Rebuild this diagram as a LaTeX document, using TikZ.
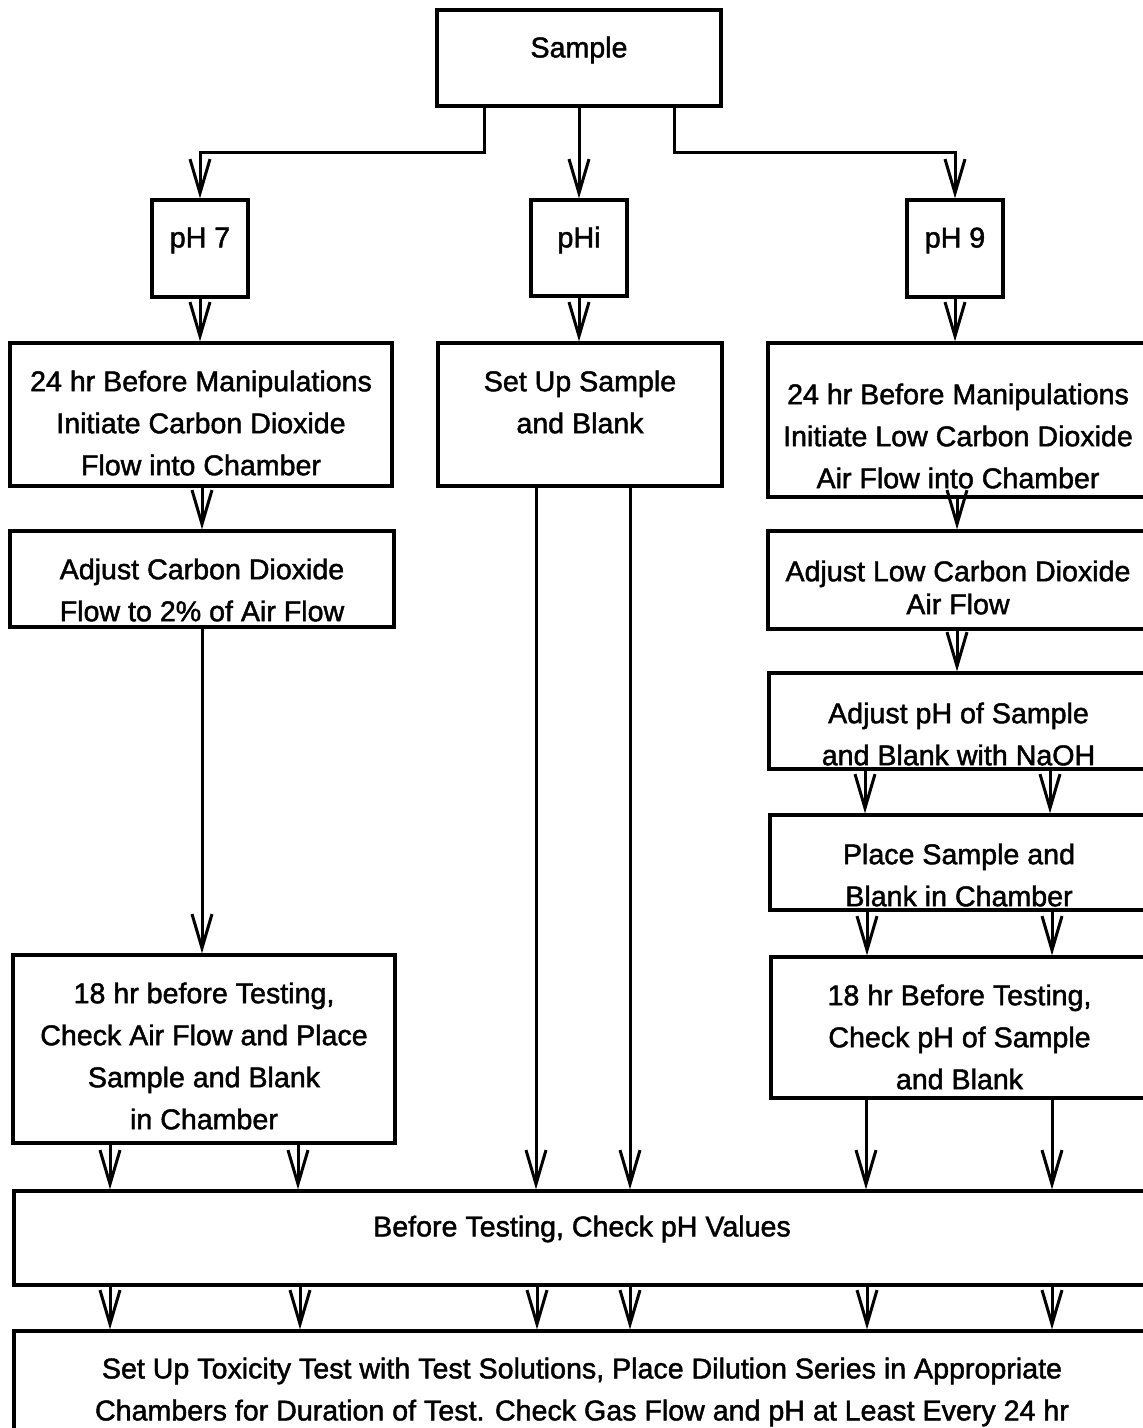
\documentclass[tikz,border=0pt]{standalone}
\usepackage{fontspec}
\setmainfont{Liberation Sans}[UprightFeatures={FakeBold=1.6}]
\usetikzlibrary{arrows.meta, positioning}

\begin{document}
\begin{tikzpicture}[
		x=0.5pt, y=-0.5pt,
		box/.style={draw, line width=1.6pt, inner sep=0pt},
		size/.style 2 args={minimum width=#1*0.5pt, minimum height=#2*0.5pt},
		txt/.style={align=center, inner sep=0pt, font=\fontsize{14.3}{21}\selectfont},
		flow/.style={line width=1.5pt, -{Straight Barb[length=17pt, width=10pt, line width=1.5pt]}}
		]
		\useasboundingbox (0,0) rectangle (1143,1428);
		\clip (0,0) rectangle (1143,1428);
		
		% ==========================================
		% 1. Sample and the three pH branches
		% ==========================================
		\node[box, size={284}{96}, label={[txt, yshift=4pt]center:{Sample}}] (sample) at (579,58) {};
		\node[box, size={96}{97}, label={[txt, yshift=4pt]center:{pH 7}}] (ph7) at (200,248.5) {};
		\node[box, size={96}{96}, label={[txt, yshift=4pt]center:{pHi}}] (phi) at (579,248) {};
		\node[box, size={96}{97}, label={[txt, yshift=4pt]center:{pH 9}}] (ph9) at (955,248.5) {};
		
		\draw[flow] (sample.south -| 484,0) -- (484,153) -| (ph7.north);
		\draw[flow] (sample) -- (phi);
		\draw[flow] (sample.south -| 674,0) -- (674,153) -| (ph9.north);
		
		% ==========================================
		% 2. pH 7 column
		% ==========================================
		\node[box, size={382}{143}, label={[txt, yshift=-4.25pt]center:{24 hr Before Manipulations\\Initiate Carbon Dioxide\\Flow into Chamber}}] (prep7) at (201,414.5) {};
		\node[box, size={384}{96}, label={[txt, yshift=-5.5pt]center:{Adjust Carbon Dioxide\\Flow to 2\% of Air Flow}}] (adjust7) at (202,579) {};
		\node[box, size={382}{188}, label={[txt, yshift=-3.5pt]center:{18 hr before Testing,\\Check Air Flow and Place\\Sample and Blank\\in Chamber}}] (place7) at (204,1049) {};
		
		\draw[flow] (ph7.south) -- (ph7.south |- prep7.north);
		\draw[flow] (prep7.south -| 202,0) -- (adjust7.north);
		\draw[flow] (adjust7.south) -- (adjust7.south |- place7.north);
		
		% ==========================================
		% 3. pHi column
		% ==========================================
		\node[box, size={284}{143}, label={[txt, yshift=6.25pt]center:{Set Up Sample\\and Blank}}] (setupi) at (580,414.5) {};
		
		\draw[flow] (phi.south) -- (phi.south |- setupi.north);
		
		% ==========================================
		% 4. pH 9 column
		% ==========================================
		\node[box, size={380}{154}, label={[txt, yshift=-8pt]center:{24 hr Before Manipulations\\Initiate Low Carbon Dioxide\\Air Flow into Chamber}}] (prep9) at (958,420) {};
		\node[box, size={380}{98}, label={[txt, yshift=-3.75pt]center:{Adjust Low Carbon Dioxide\\[-4.5pt]Air Flow}}] (adjust9) at (958,580) {};
		\node[box, size={379}{96}, label={[txt, yshift=-6.5pt]center:{Adjust pH of Sample\\and Blank with NaOH}}] (naoh9) at (958.5,721) {};
		\node[box, size={378}{95}, label={[txt, yshift=-6.25pt]center:{Place Sample and\\Blank in Chamber}}] (place9) at (959,862.5) {};
		\node[box, size={377}{141}, label={[txt, yshift=-4.75pt]center:{18 hr Before Testing,\\Check pH of Sample\\and Blank}}] (check9) at (959.5,1027.5) {};
		
		\draw[flow] (ph9.south) -- (ph9.south |- prep9.north);
		\draw[flow] (prep9.south -| 957,0) -- (adjust9.north -| 957,0);
		\draw[flow] (adjust9.south -| 957,0) -- (naoh9.north -| 957,0);
		\foreach \x in {865,1050}
			\draw[flow] (naoh9.south -| \x,0) -- (place9.north -| \x,0);
		\foreach \x in {867,1052}
			\draw[flow] (place9.south -| \x,0) -- (check9.north -| \x,0);
		
		% ==========================================
		% 5. Common steps
		% ==========================================
		\node[box, size={1136}{94}, label={[txt, yshift=4.5pt]center:{Before Testing, Check pH Values}}] (checkall) at (582,1238) {};
		\node[box, size={1136}{109}, label={[txt, yshift=-3.25pt]center:{Set Up Toxicity Test with Test Solutions, Place Dilution Series in Appropriate\\Chambers for Duration of Test. Check Gas Flow and pH at Least Every 24 hr}}] (toxtest) at (582,1385.5) {};
		
		\foreach \x in {110,298}
			\draw[flow] (place7.south -| \x,0) -- (checkall.north -| \x,0);
		\foreach \x in {536,630}
			\draw[flow] (setupi.south -| \x,0) -- (checkall.north -| \x,0);
		\foreach \x in {866,1052}
			\draw[flow] (check9.south -| \x,0) -- (checkall.north -| \x,0);
		\foreach \x in {110,300,537,630,867,1052}
			\draw[flow] (checkall.south -| \x,0) -- (toxtest.north -| \x,0);
		
	\end{tikzpicture}
\end{document}
